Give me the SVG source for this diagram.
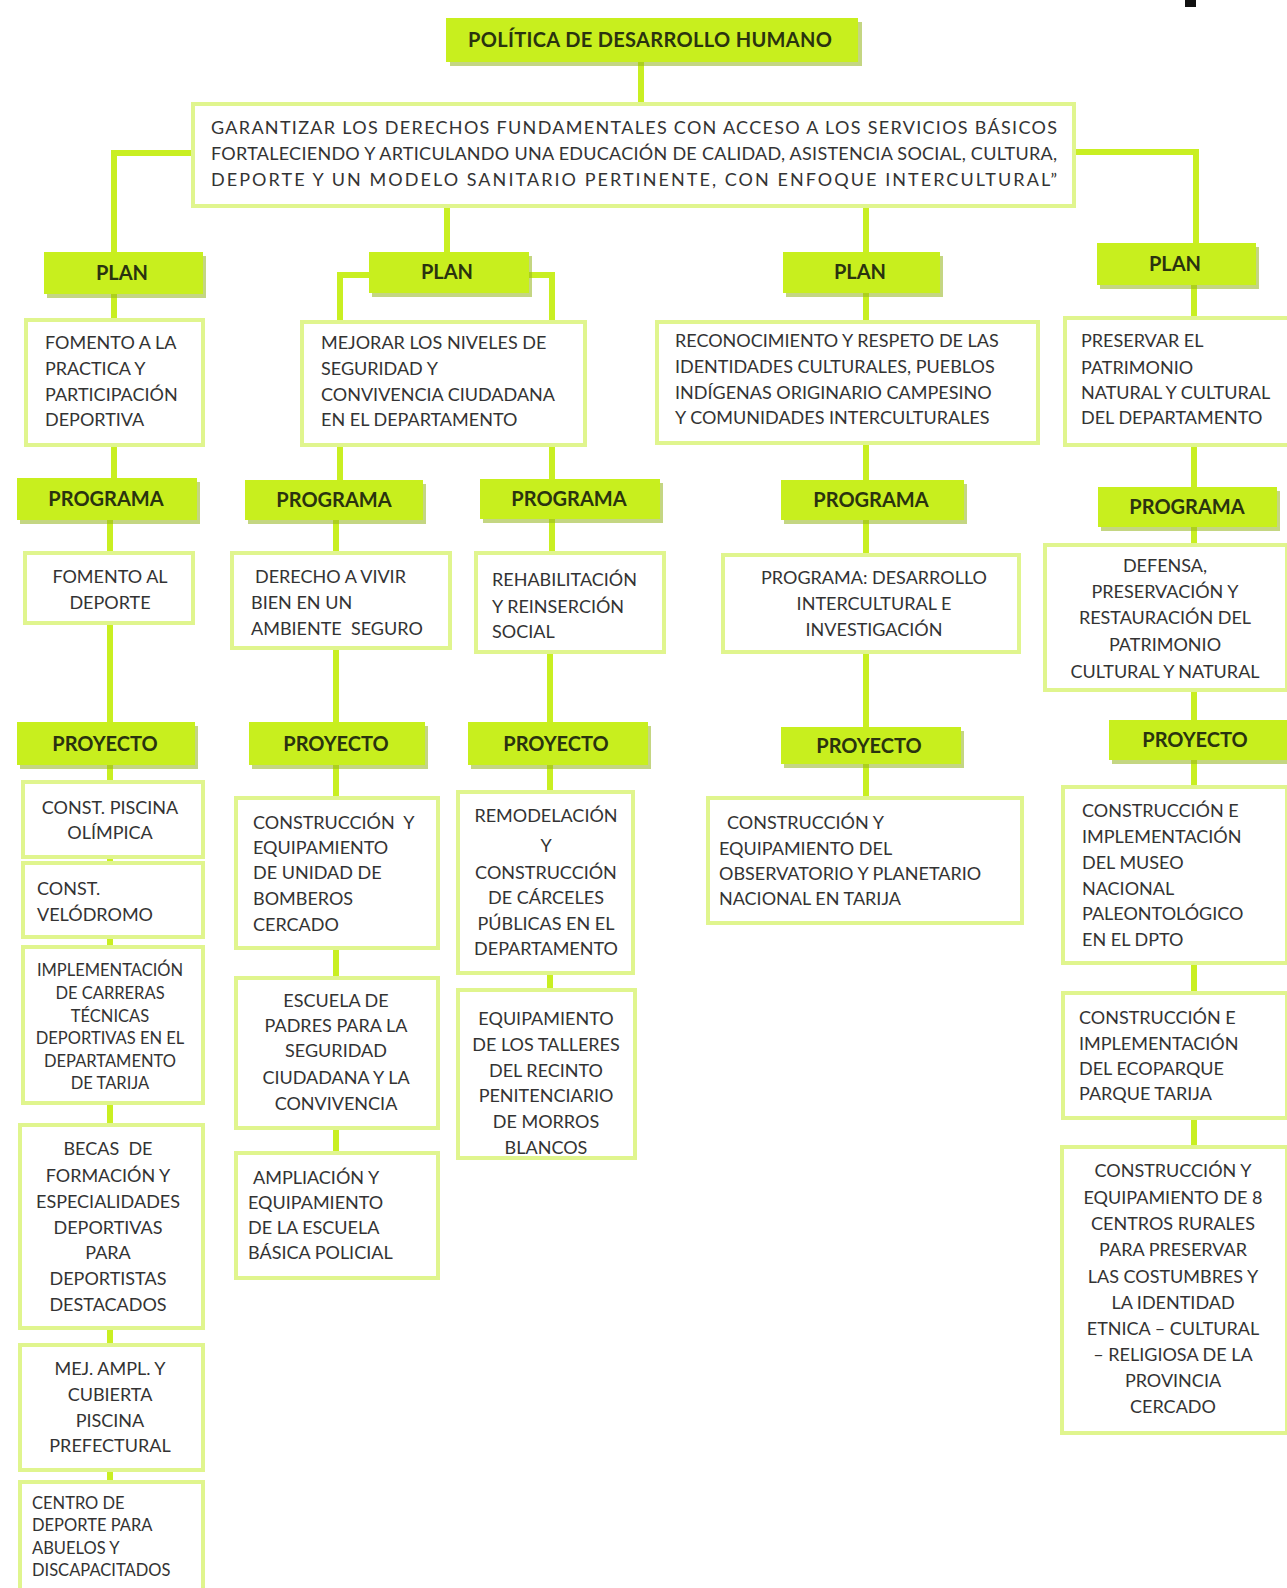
<svg xmlns="http://www.w3.org/2000/svg" width="1287" height="1588" viewBox="0 0 1287 1588">
<defs>
<style>
.conn{stroke:#c9ef22;stroke-width:6;fill:none;stroke-linecap:square}
.lbl{fill:#c8ef1e}
.sh{fill:#93b51c;opacity:.55}
.box{fill:#fff;stroke:#e0f58e;stroke-width:4}
.t{font-family:Lato,"Liberation Sans",sans-serif;font-size:18px;fill:#333}
.s{font-size:16.5px}
.c{text-anchor:middle}
.h{font-family:Lato,"Liberation Sans",sans-serif;font-weight:bold;font-size:20px;fill:#2a330f;text-anchor:middle}
</style>
</defs>
<rect width="1287" height="1588" fill="#fff"/>
<rect x="1185" y="0" width="11" height="7" fill="#111"/>

<g id="connectors">
<path class="conn" d="M641 62V104"/>
<path class="conn" d="M193 153H114V252"/>
<path class="conn" d="M447 208V252"/>
<path class="conn" d="M866 206V252"/>
<path class="conn" d="M1074 152H1196V245"/>
<path class="conn" d="M114 294V478"/>
<path class="conn" d="M110 520V1588"/>
<path class="conn" d="M369 275H340V480"/>
<path class="conn" d="M529 275H552V480"/>
<path class="conn" d="M336 520V1153"/>
<path class="conn" d="M552 519V560"/>
<path class="conn" d="M550 650V990"/>
<path class="conn" d="M866 293V798"/>
<path class="conn" d="M1194 285V1147"/>
</g>

<g id="n-politica">
<rect class="sh" x="450" y="22" width="412" height="44"/>
<rect class="lbl" x="446" y="18" width="412" height="44"/>
<text class="h" x="650" y="47" font-size="18" textLength="364" lengthAdjust="spacing">POLÍTICA DE DESARROLLO HUMANO</text>
</g>

<g id="n-objetivo">
<rect class="box" x="193" y="104" width="881" height="102"/>
<text class="t" x="211" y="134" font-size="16.5" textLength="846" lengthAdjust="spacing">GARANTIZAR LOS DERECHOS FUNDAMENTALES CON ACCESO A LOS SERVICIOS BÁSICOS</text>
<text class="t" x="211" y="160" font-size="16.5" textLength="846" lengthAdjust="spacing">FORTALECIENDO Y ARTICULANDO UNA EDUCACIÓN DE CALIDAD, ASISTENCIA SOCIAL, CULTURA,</text>
<text class="t" x="211" y="186" font-size="16.5" textLength="846" lengthAdjust="spacing">DEPORTE Y UN MODELO SANITARIO PERTINENTE, CON ENFOQUE INTERCULTURAL”</text>
</g>

<g id="n-plan1"><rect class="sh" x="47" y="256" width="159" height="42"/><rect class="lbl" x="44" y="252" width="159" height="42"/><text class="h" x="122" y="280">PLAN</text></g>
<g id="n-plan2"><rect class="sh" x="372" y="256" width="160" height="41"/><rect class="lbl" x="369" y="252" width="160" height="41"/><text class="h" x="447" y="279">PLAN</text></g>
<g id="n-plan3"><rect class="sh" x="786" y="256" width="157" height="41"/><rect class="lbl" x="783" y="252" width="157" height="41"/><text class="h" x="860" y="279">PLAN</text></g>
<g id="n-plan4"><rect class="sh" x="1100" y="247" width="159" height="42"/><rect class="lbl" x="1097" y="243" width="159" height="42"/><text class="h" x="1175" y="271">PLAN</text></g>

<g id="n-plan1-txt"><rect class="box" x="26" y="320" width="177" height="125"/>
<text class="t" x="45" y="349">FOMENTO A LA</text><text class="t" x="45" y="375">PRACTICA Y</text><text class="t" x="45" y="401">PARTICIPACIÓN</text><text class="t" x="45" y="426">DEPORTIVA</text></g>
<g id="n-plan2-txt"><rect class="box" x="302" y="322" width="283" height="123"/>
<text class="t" x="321" y="349">MEJORAR LOS NIVELES DE</text><text class="t" x="321" y="375">SEGURIDAD Y</text><text class="t" x="321" y="401">CONVIVENCIA CIUDADANA</text><text class="t" x="321" y="426">EN EL DEPARTAMENTO</text></g>
<g id="n-plan3-txt"><rect class="box" x="657" y="322" width="381" height="121"/>
<text class="t" x="675" y="347">RECONOCIMIENTO Y RESPETO DE LAS</text><text class="t" x="675" y="373">IDENTIDADES CULTURALES, PUEBLOS</text><text class="t" x="675" y="399">INDÍGENAS ORIGINARIO CAMPESINO</text><text class="t" x="675" y="424">Y COMUNIDADES INTERCULTURALES</text></g>
<g id="n-plan4-txt"><rect class="box" x="1065" y="318" width="224" height="127"/>
<text class="t" x="1081" y="347">PRESERVAR EL</text><text class="t" x="1081" y="374">PATRIMONIO</text><text class="t" x="1081" y="399">NATURAL Y CULTURAL</text><text class="t" x="1081" y="424">DEL DEPARTAMENTO</text></g>

<g id="n-prog1"><rect class="sh" x="20" y="482" width="180" height="42"/><rect class="lbl" x="17" y="478" width="180" height="42"/><text class="h" x="106" y="506">PROGRAMA</text></g>
<g id="n-prog2"><rect class="sh" x="248" y="484" width="178" height="40"/><rect class="lbl" x="245" y="480" width="178" height="40"/><text class="h" x="334" y="507">PROGRAMA</text></g>
<g id="n-prog3"><rect class="sh" x="483" y="483" width="180" height="40"/><rect class="lbl" x="480" y="479" width="180" height="40"/><text class="h" x="569" y="506">PROGRAMA</text></g>
<g id="n-prog4"><rect class="sh" x="784" y="484" width="183" height="40"/><rect class="lbl" x="781" y="480" width="183" height="40"/><text class="h" x="871" y="507">PROGRAMA</text></g>
<g id="n-prog5"><rect class="sh" x="1101" y="491" width="179" height="40"/><rect class="lbl" x="1098" y="487" width="179" height="40"/><text class="h" x="1187" y="514">PROGRAMA</text></g>

<g id="n-prog1-txt"><rect class="box" x="25" y="553" width="168" height="70"/>
<text class="t c" x="110" y="583">FOMENTO AL</text><text class="t c" x="110" y="609">DEPORTE</text></g>
<g id="n-prog2-txt"><rect class="box" x="232" y="553" width="218" height="95"/>
<text class="t" x="255" y="583">DERECHO A VIVIR</text><text class="t" x="251" y="609">BIEN EN UN</text><text class="t" x="251" y="635">AMBIENTE&#160; SEGURO</text></g>
<g id="n-prog3-txt"><rect class="box" x="476" y="553" width="188" height="99"/>
<text class="t" x="492" y="586">REHABILITACIÓN</text><text class="t" x="492" y="613">Y REINSERCIÓN</text><text class="t" x="492" y="638">SOCIAL</text></g>
<g id="n-prog4-txt"><rect class="box" x="723" y="555" width="296" height="97"/>
<text class="t c" x="874" y="584">PROGRAMA: DESARROLLO</text><text class="t c" x="874" y="610">INTERCULTURAL E</text><text class="t c" x="874" y="636">INVESTIGACIÓN</text></g>
<g id="n-prog5-txt"><rect class="box" x="1045" y="545" width="242" height="145"/>
<text class="t c" x="1165" y="572">DEFENSA,</text><text class="t c" x="1165" y="598">PRESERVACIÓN Y</text><text class="t c" x="1165" y="624">RESTAURACIÓN DEL</text><text class="t c" x="1165" y="651">PATRIMONIO</text><text class="t c" x="1165" y="678">CULTURAL Y NATURAL</text></g>

<g id="n-proy1"><rect class="sh" x="20" y="726" width="178" height="43"/><rect class="lbl" x="17" y="722" width="178" height="43"/><text class="h" x="105" y="751">PROYECTO</text></g>
<g id="n-proy2"><rect class="sh" x="252" y="726" width="176" height="43"/><rect class="lbl" x="249" y="722" width="176" height="43"/><text class="h" x="336" y="751">PROYECTO</text></g>
<g id="n-proy3"><rect class="sh" x="471" y="726" width="180" height="43"/><rect class="lbl" x="468" y="722" width="180" height="43"/><text class="h" x="556" y="751">PROYECTO</text></g>
<g id="n-proy4"><rect class="sh" x="784" y="731" width="180" height="37"/><rect class="lbl" x="781" y="727" width="180" height="37"/><text class="h" x="869" y="753">PROYECTO</text></g>
<g id="n-proy5"><rect class="sh" x="1112" y="724" width="175" height="40"/><rect class="lbl" x="1109" y="720" width="178" height="40"/><text class="h" x="1195" y="747">PROYECTO</text></g>

<g id="n-piscina"><rect class="box" x="23" y="782" width="180" height="75"/>
<text class="t c" x="110" y="814">CONST. PISCINA</text><text class="t c" x="110" y="839">OLÍMPICA</text></g>
<g id="n-velodromo"><rect class="box" x="23" y="863" width="180" height="74"/>
<text class="t" x="37" y="895">CONST.</text><text class="t" x="37" y="921">VELÓDROMO</text></g>
<g id="n-carreras"><rect class="box" x="23" y="947" width="180" height="156"/>
<text class="t s c" x="110" y="976">IMPLEMENTACIÓN</text><text class="t s c" x="110" y="999">DE CARRERAS</text><text class="t s c" x="110" y="1022">TÉCNICAS</text><text class="t s c" x="110" y="1044">DEPORTIVAS EN EL</text><text class="t s c" x="110" y="1067">DEPARTAMENTO</text><text class="t s c" x="110" y="1089">DE TARIJA</text></g>
<g id="n-becas"><rect class="box" x="20" y="1125" width="183" height="203"/>
<text class="t c" x="108" y="1155">BECAS&#160; DE</text><text class="t c" x="108" y="1182">FORMACIÓN Y</text><text class="t c" x="108" y="1208">ESPECIALIDADES</text><text class="t c" x="108" y="1234">DEPORTIVAS</text><text class="t c" x="108" y="1259">PARA</text><text class="t c" x="108" y="1285">DEPORTISTAS</text><text class="t c" x="108" y="1311">DESTACADOS</text></g>
<g id="n-cubierta"><rect class="box" x="20" y="1345" width="183" height="125"/>
<text class="t c" x="110" y="1375">MEJ. AMPL. Y</text><text class="t c" x="110" y="1401">CUBIERTA</text><text class="t c" x="110" y="1427">PISCINA</text><text class="t c" x="110" y="1452">PREFECTURAL</text></g>
<g id="n-abuelos"><rect class="box" x="20" y="1482" width="183" height="120"/>
<text class="t s" x="32" y="1509">CENTRO DE</text><text class="t s" x="32" y="1531">DEPORTE PARA</text><text class="t s" x="32" y="1554">ABUELOS Y</text><text class="t s" x="32" y="1576">DISCAPACITADOS</text></g>

<g id="n-bomberos"><rect class="box" x="236" y="798" width="202" height="150"/>
<text class="t" x="253" y="829">CONSTRUCCIÓN&#160; Y</text><text class="t" x="253" y="854">EQUIPAMIENTO</text><text class="t" x="253" y="879">DE UNIDAD DE</text><text class="t" x="253" y="905">BOMBEROS</text><text class="t" x="253" y="931">CERCADO</text></g>
<g id="n-padres"><rect class="box" x="236" y="978" width="202" height="150"/>
<text class="t c" x="336" y="1007">ESCUELA DE</text><text class="t c" x="336" y="1032">PADRES PARA LA</text><text class="t c" x="336" y="1057">SEGURIDAD</text><text class="t c" x="336" y="1084">CIUDADANA Y LA</text><text class="t c" x="336" y="1110">CONVIVENCIA</text></g>
<g id="n-policial"><rect class="box" x="236" y="1153" width="202" height="125"/>
<text class="t" x="253" y="1184">AMPLIACIÓN Y</text><text class="t" x="248" y="1209">EQUIPAMIENTO</text><text class="t" x="248" y="1234">DE LA ESCUELA</text><text class="t" x="248" y="1259">BÁSICA POLICIAL</text></g>

<g id="n-carceles"><rect class="box" x="458" y="792" width="175" height="181"/>
<text class="t c" x="546" y="822">REMODELACIÓN</text><text class="t c" x="546" y="852">Y</text><text class="t c" x="546" y="879">CONSTRUCCIÓN</text><text class="t c" x="546" y="904">DE CÁRCELES</text><text class="t c" x="546" y="930">PÚBLICAS EN EL</text><text class="t c" x="546" y="955">DEPARTAMENTO</text></g>
<g id="n-talleres"><rect class="box" x="458" y="990" width="177" height="168"/>
<text class="t c" x="546" y="1025">EQUIPAMIENTO</text><text class="t c" x="546" y="1051">DE LOS TALLERES</text><text class="t c" x="546" y="1077">DEL RECINTO</text><text class="t c" x="546" y="1102">PENITENCIARIO</text><text class="t c" x="546" y="1128">DE MORROS</text><text class="t c" x="546" y="1154">BLANCOS</text></g>

<g id="n-observatorio"><rect class="box" x="708" y="798" width="314" height="125"/>
<text class="t" x="727" y="829">CONSTRUCCIÓN Y</text><text class="t" x="719" y="855">EQUIPAMIENTO DEL</text><text class="t" x="719" y="880">OBSERVATORIO Y PLANETARIO</text><text class="t" x="719" y="905">NACIONAL EN TARIJA</text></g>

<g id="n-museo"><rect class="box" x="1063" y="787" width="224" height="176"/>
<text class="t" x="1082" y="817">CONSTRUCCIÓN E</text><text class="t" x="1082" y="843">IMPLEMENTACIÓN</text><text class="t" x="1082" y="869">DEL MUSEO</text><text class="t" x="1082" y="895">NACIONAL</text><text class="t" x="1082" y="920">PALEONTOLÓGICO</text><text class="t" x="1082" y="946">EN EL DPTO</text></g>
<g id="n-ecoparque"><rect class="box" x="1063" y="993" width="224" height="125"/>
<text class="t" x="1079" y="1024">CONSTRUCCIÓN E</text><text class="t" x="1079" y="1050">IMPLEMENTACIÓN</text><text class="t" x="1079" y="1075">DEL ECOPARQUE</text><text class="t" x="1079" y="1100">PARQUE TARIJA</text></g>
<g id="n-rurales"><rect class="box" x="1062" y="1147" width="225" height="286"/>
<text class="t c" x="1173" y="1177">CONSTRUCCIÓN Y</text><text class="t c" x="1173" y="1204">EQUIPAMIENTO DE 8</text><text class="t c" x="1173" y="1230">CENTROS RURALES</text><text class="t c" x="1173" y="1256">PARA PRESERVAR</text><text class="t c" x="1173" y="1283">LAS COSTUMBRES Y</text><text class="t c" x="1173" y="1309">LA IDENTIDAD</text><text class="t c" x="1173" y="1335">ETNICA – CULTURAL</text><text class="t c" x="1173" y="1361">– RELIGIOSA DE LA</text><text class="t c" x="1173" y="1387">PROVINCIA</text><text class="t c" x="1173" y="1413">CERCADO</text></g>
</svg>
